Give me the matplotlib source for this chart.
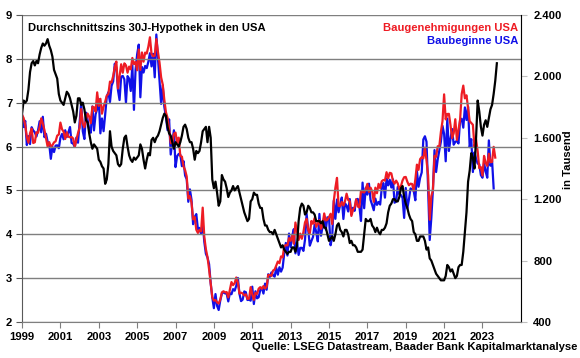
import matplotlib
matplotlib.use("Agg")
import matplotlib.pyplot as plt
from matplotlib.ticker import FuncFormatter
import numpy as np

# Durchschnittszins 30J-Hypothek (%), monatlich ab Jan 1999
zins = [
    6.75, 7.05, 7.0, 7.05, 7.3, 7.7, 7.9, 7.95, 7.85, 7.95, 7.9, 8.1,
    8.25, 8.35, 8.3, 8.35, 8.45, 8.3, 8.2, 8.05, 7.75, 7.65, 7.55, 7.2,
    7.05, 7.0, 6.95, 7.1, 7.25, 7.2, 7.1, 6.95, 6.8, 6.55, 6.7, 7.1,
    7.1, 6.95, 7.0, 6.85, 6.6, 6.55, 6.3, 6.1, 5.95, 6.05, 6.0, 5.95,
    5.7, 5.65, 5.55, 5.5, 5.15, 5.25, 5.6, 6.35, 6.0, 5.9, 5.85, 5.8,
    5.6, 5.55, 5.6, 5.95, 6.2, 6.25, 6.0, 5.8, 5.7, 5.65, 5.75, 5.7,
    5.75, 5.8, 6.05, 5.95, 5.7, 5.5, 5.7, 5.85, 5.8, 6.15, 6.2, 6.1,
    6.2, 6.25, 6.35, 6.5, 6.65, 6.75, 6.7, 6.45, 6.3, 6.25, 6.1, 5.95,
    6.1, 6.05, 6.0, 6.1, 6.25, 6.45, 6.5, 6.4, 6.2, 6.1, 6.1, 5.95,
    5.7, 5.9, 5.85, 5.9, 6.1, 6.35, 6.4, 6.45, 6.1, 6.45, 6.2, 5.25,
    5.05, 5.2, 4.95, 4.65, 4.75, 5.35, 5.25, 5.2, 5.05, 4.85, 4.95, 5.0,
    5.1, 5.0, 5.05, 5.1, 4.95, 4.8, 4.65, 4.5, 4.4, 4.3, 4.35, 4.75,
    4.8, 4.95, 4.9, 4.9, 4.7, 4.6, 4.6, 4.35, 4.2, 4.2, 4.1, 4.05,
    4.05, 4.0, 4.1, 4.0, 3.9, 3.8, 3.7, 3.75, 3.65, 3.6, 3.55, 3.6,
    3.6, 3.7, 3.7, 3.6, 3.75, 4.3, 4.6, 4.7, 4.65, 4.45, 4.5, 4.65,
    4.6, 4.5, 4.5, 4.45, 4.3, 4.3, 4.3, 4.25, 4.3, 4.15, 4.15, 4.0,
    3.85, 3.9, 3.95, 3.85, 4.0, 4.2, 4.25, 4.1, 4.05, 3.95, 4.1, 4.1,
    4.0, 3.8, 3.85, 3.75, 3.75, 3.7, 3.6, 3.6, 3.6, 3.65, 4.0, 4.35,
    4.3, 4.3, 4.35, 4.2, 4.15, 4.05, 4.15, 4.05, 4.0, 4.1, 4.1, 4.15,
    4.25, 4.5, 4.65, 4.7, 4.8, 4.8, 4.75, 4.75, 4.85, 5.05, 5.1, 4.85,
    4.7, 4.6, 4.45, 4.35, 4.3, 4.05, 4.0, 3.85, 3.85, 3.95, 3.95, 3.95,
    3.85, 3.65, 3.7, 3.45, 3.4, 3.3, 3.2, 3.1, 3.05, 3.0, 2.95, 2.95,
    2.95, 3.05, 3.3, 3.25, 3.15, 3.2, 3.1, 3.0, 3.05, 3.25, 3.3, 3.3,
    3.6, 4.05, 4.5, 5.2, 5.45, 5.85, 5.75, 5.5, 6.2, 7.05, 6.8, 6.45,
    6.25, 6.5, 6.6, 6.45, 6.65, 6.85, 6.95, 7.2, 7.5, 7.9,
]

# Baugenehmigungen USA (Tsd.), monatlich ab Jan 1999
genehmigungen = [
    1751, 1728, 1682, 1606, 1568, 1630, 1660, 1566, 1571, 1636, 1633, 1669,
    1727, 1692, 1651, 1597, 1543, 1572, 1542, 1552, 1570, 1577, 1614, 1621,
    1699, 1656, 1640, 1592, 1636, 1607, 1603, 1605, 1595, 1541, 1588, 1630,
    1665, 1787, 1691, 1669, 1716, 1758, 1738, 1695, 1803, 1799, 1771, 1896,
    1808, 1854, 1757, 1803, 1835, 1875, 1885, 1966, 1961, 2002, 2060, 2097,
    1921, 2001, 2079, 2024, 2085, 2072, 2024, 2064, 2046, 2120, 2080, 2094,
    2040, 2175, 2042, 2156, 2096, 2155, 2149, 2194, 2255, 2146, 2131, 2135,
    2243, 2160, 2089, 1994, 1947, 1847, 1767, 1731, 1659, 1566, 1565, 1626,
    1634, 1570, 1601, 1481, 1477, 1414, 1389, 1348, 1204, 1220, 1178, 1068,
    1084, 1001, 980, 1000, 990, 1145, 955, 874, 823, 743, 651, 561,
    539, 543, 528, 520, 546, 593, 600, 593, 595, 560, 609, 660,
    640, 653, 690, 657, 585, 591, 586, 573, 580, 550, 552, 627,
    581, 544, 589, 583, 617, 627, 616, 634, 618, 629, 706, 706,
    700, 735, 742, 767, 794, 783, 827, 821, 893, 901, 899, 946,
    929, 963, 910, 1048, 990, 934, 976, 942, 985, 1049, 1072, 1000,
    978, 1058, 1040, 1077, 1020, 1039, 1063, 1007, 1034, 1107, 1061, 1066,
    1083, 1105, 1038, 1188, 1275, 1339, 1156, 1155, 1182, 1159, 1186, 1236,
    1195, 1186, 1091, 1130, 1147, 1199, 1152, 1147, 1254, 1246, 1244, 1264,
    1300, 1247, 1275, 1251, 1183, 1275, 1239, 1300, 1272, 1317, 1325, 1321,
    1376, 1336, 1372, 1368, 1320, 1301, 1321, 1303, 1265, 1285, 1322, 1343,
    1345, 1314, 1291, 1301, 1299, 1255, 1328, 1425, 1391, 1461, 1474, 1466,
    1536, 1452, 1356, 1066, 1220, 1258, 1483, 1476, 1545, 1544, 1639, 1709,
    1883, 1720, 1755, 1756, 1683, 1598, 1630, 1721, 1586, 1653, 1717, 1885,
    1940, 1857, 1877, 1795, 1708, 1696, 1685, 1542, 1588, 1512, 1402, 1409,
    1354, 1482, 1437, 1417, 1496, 1441, 1443, 1541, 1471,
]

# Baubeginne USA (Tsd.), monatlich ab Jan 1999
baubeginne = [
    1748, 1670, 1710, 1553, 1611, 1559, 1669, 1648, 1635, 1608, 1648, 1708,
    1636, 1737, 1604, 1626, 1575, 1559, 1463, 1541, 1507, 1549, 1551, 1532,
    1600, 1625, 1590, 1649, 1605, 1636, 1670, 1567, 1562, 1540, 1602, 1568,
    1698, 1829, 1642, 1592, 1764, 1717, 1655, 1633, 1804, 1648, 1753, 1788,
    1853, 1629, 1726, 1643, 1751, 1867, 1897, 1833, 1939, 1967, 2083, 2057,
    1911, 1846, 1998, 2003, 1981, 1828, 2002, 1985, 1905, 2072, 1782, 2042,
    2144, 2207, 1864, 2061, 2025, 2068, 2054, 2095, 2151, 2065, 2147, 1994,
    2273, 2119, 1969, 1821, 1942, 1802, 1737, 1650, 1720, 1491, 1570, 1649,
    1409, 1480, 1495, 1490, 1415, 1448, 1354, 1330, 1183, 1264, 1197, 1037,
    1084, 1103, 1005, 1013, 973, 1046, 923, 844, 820, 777, 652, 560,
    490, 582, 505, 478, 540, 585, 594, 586, 585, 534, 588, 581,
    614, 604, 636, 687, 583, 536, 546, 599, 594, 543, 545, 539,
    630, 517, 600, 554, 561, 608, 623, 585, 650, 610, 711, 694,
    723, 704, 695, 753, 708, 757, 728, 754, 847, 915, 833, 976,
    888, 962, 1005, 847, 918, 837, 883, 883, 863, 936, 1105, 1003,
    897, 928, 954, 1034, 985, 925, 1104, 962, 1022, 1082, 1002, 1082,
    1080, 900, 954, 1190, 1072, 1198, 1115, 1165, 1211, 1071, 1173, 1158,
    1120, 1201, 1100, 1144, 1124, 1198, 1202, 1154, 1058, 1308, 1141, 1275,
    1230, 1301, 1195, 1163, 1128, 1204, 1163, 1182, 1165, 1273, 1305, 1210,
    1334, 1290, 1327, 1276, 1329, 1177, 1184, 1280, 1232, 1227, 1209, 1078,
    1273, 1140, 1199, 1270, 1263, 1253, 1193, 1384, 1281, 1340, 1374, 1589,
    1610, 1574, 1269, 934, 1077, 1262, 1520, 1377, 1459, 1518, 1575, 1678,
    1625, 1447, 1725, 1514, 1594, 1657, 1555, 1573, 1580, 1563, 1716, 1724,
    1666, 1798, 1716, 1803, 1539, 1591, 1377, 1505, 1463, 1432, 1427, 1357,
    1340, 1436, 1380, 1340, 1583, 1418, 1451, 1270,
]

jahre = list(range(1999, 2024, 2))
links_ticks = [2, 3, 4, 5, 6, 7, 8, 9]
rechts_ticks = [400, 800, 1200, 1600, 2000, 2400]

plt.rcParams['font.family'] = ['Liberation Sans', 'DejaVu Sans']
plt.rcParams['font.weight'] = 'bold'
fs = 8.1


def monate(werte):
    return 1999 + np.arange(len(werte)) / 12.0


fig = plt.figure(figsize=(5.8, 3.58), dpi=100)
ax = fig.add_axes([0.038, 0.1006, 0.860, 0.8575])
ax2 = ax.twinx()

# blau zuerst, rot darueber, schwarz ganz oben
ax2.plot(monate(baubeginne), baubeginne, color='#1010e8', lw=1.6)
ax2.plot(monate(genehmigungen), genehmigungen, color='#ee1c24', lw=1.6)
ax.plot(monate(zins), zins, color='black', lw=1.6)

ax.set_zorder(ax2.get_zorder() + 1)
ax.patch.set_visible(False)

ax.set_xlim(1999, 2025)
ax.set_ylim(2, 9)
ax2.set_ylim(400, 2400)

ax.set_xticks(jahre)
ax.set_xticklabels([str(j) for j in jahre])
ax.set_yticks(links_ticks)
ax2.set_yticks(rechts_ticks)
ax2.yaxis.set_major_formatter(FuncFormatter(lambda v, p: f"{int(v):,}".replace(",", ".")))

ax.yaxis.grid(True, color='#7f7f7f', lw=1.0)
ax.set_axisbelow(True)

for a in (ax, ax2):
    a.spines['top'].set_visible(False)
ax.spines['left'].set_color('#595959')
ax.spines['bottom'].set_color('#7f7f7f')
ax2.spines['right'].set_color('#bfbfbf')
ax2.spines['left'].set_visible(False)
ax2.spines['bottom'].set_visible(False)

ax.tick_params(axis='x', direction='out', length=4, color='#7f7f7f', labelsize=fs, pad=3)
ax.tick_params(axis='y', direction='out', length=4, color='#595959', labelsize=fs, pad=3)
ax2.tick_params(axis='y', direction='out', length=4, color='#bfbfbf', labelsize=fs, pad=5)

ax.text(0.012, 0.975, "Durchschnittszins 30J-Hypothek in den USA", transform=ax.transAxes,
        ha='left', va='top', fontsize=fs, fontweight='bold', color='black')
ax.text(0.995, 0.975, "Baugenehmigungen USA", transform=ax.transAxes,
        ha='right', va='top', fontsize=fs, fontweight='bold', color='#ee1c24')
ax.text(0.995, 0.933, "Baubeginne USA", transform=ax.transAxes,
        ha='right', va='top', fontsize=fs, fontweight='bold', color='#1010e8')

fig.text(568 / 580, 1 - 160 / 358, "in Tausend", rotation=90, ha='center', va='center',
         fontsize=fs, fontweight='bold')
fig.text(577 / 580, 1 - 347 / 358, "Quelle: LSEG Datastream, Baader Bank Kapitalmarktanalyse",
         ha='right', va='center', fontsize=fs, fontweight='bold')

fig.savefig("out.png", dpi=100)
